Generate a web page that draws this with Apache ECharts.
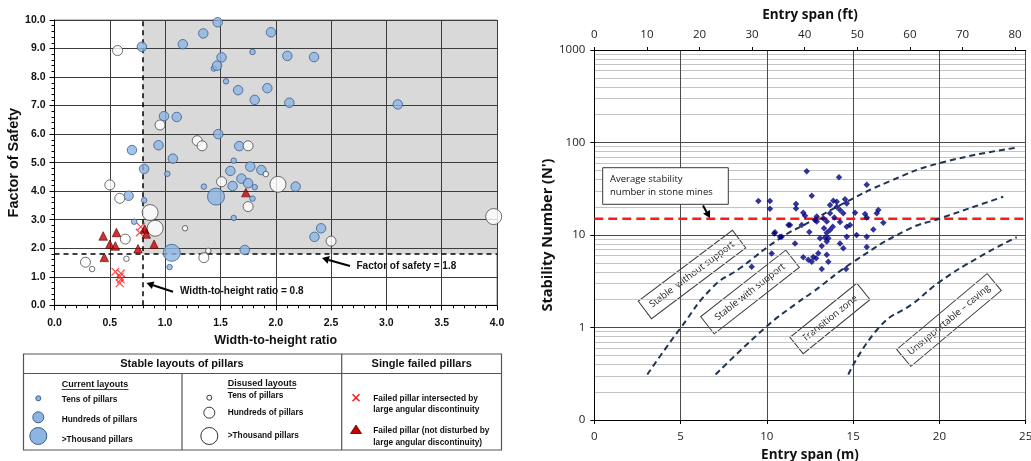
<!DOCTYPE html>
<html><head><meta charset="utf-8">
<script src="https://cdn.jsdelivr.net/npm/echarts@6/dist/echarts.min.js"></script>
<style>html,body{margin:0;padding:0;background:#fff}#c{width:1031px;height:461px}</style>
</head><body><div id="c"></div>
<script>
// ---------- Left chart: factor of safety vs width-to-height ratio ----------
const currentTens = [[1.79,8.88],[1.44,8.30],[1.55,7.85],[1.62,5.07],[1.02,4.61],[1.35,4.16],[1.81,4.14],[1.79,3.74],[0.81,3.68],[1.62,3.06],[0.72,2.93],[1.04,1.34]];
const currentHundreds = [[1.475,9.92],[1.345,9.53],[1.16,9.15],[0.79,9.06],[1.51,8.69],[1.47,8.40],[1.66,7.54],[1.81,7.20],[0.99,6.63],[1.105,6.60],[1.48,6.00],[0.94,5.61],[0.70,5.44],[1.67,5.58],[1.07,5.14],[1.77,4.86],[0.81,4.78],[1.59,4.71],[1.87,4.74],[1.69,4.44],[1.75,4.28],[1.61,4.18],[0.67,3.84],[2.18,4.16],[2.41,2.70],[2.35,2.40],[1.72,1.94],[1.957,9.57],[2.105,8.74],[2.346,8.70],[1.924,7.61],[2.123,7.10],[3.103,7.04]];
const currentThousand = [[1.46,3.81],[1.06,1.84]];
const disusedTens = [[1.91,4.60],[1.18,2.70],[1.39,1.91],[0.34,1.27],[0.65,1.63]];
const disusedHundreds = [[0.57,8.93],[0.954,6.32],[1.29,5.77],[1.334,5.59],[1.75,5.59],[1.51,4.33],[0.50,4.22],[0.59,3.75],[1.75,3.46],[2.50,2.25],[0.64,2.32],[1.35,1.67],[0.28,1.51]];
const disusedThousand = [[2.02,4.24],[0.864,3.25],[0.91,2.70],[3.97,3.11]];
const failedIntersected = [[0.78,2.75],[0.77,2.55],[0.55,1.18],[0.60,1.12],[0.59,1.00],[0.60,0.90],[0.59,0.78]];
const failedIntact = [[0.44,2.43],[0.56,2.55],[0.50,2.14],[0.55,2.08],[0.45,1.68],[0.755,1.98],[0.90,2.14],[0.815,2.67],[0.83,2.50],[1.73,3.95]];
const safetyLimit = 1.8;
const ratioLimit = 0.8;

// ---------- Right chart: stability number vs entry span ----------
const stabilityPoints = [[12.31,49],[14.18,42],[15.79,35],[9.51,23.3],[10.18,23.3],[10.18,19.2],[12.6,26.5],[11.69,21.6],[11.69,19.4],[13.85,23.4],[14.53,24.3],[13.66,21.1],[14.05,20.2],[14.63,21.9],[14.24,18.6],[14.43,17.2],[12.11,17.4],[12.21,16.1],[12.89,15.8],[13.27,15.2],[13.47,14.0],[13.91,15.5],[14.24,13.8],[15.11,17.4],[15.69,16.9],[15.79,15.5],[16.46,18.6],[16.37,17.2],[16.75,13.6],[11.34,12.8],[12.46,10.8],[12.89,14.0],[13.31,11.8],[13.47,10.6],[13.66,11.3],[13.82,12.3],[14.63,12.3],[14.82,12.8],[14.63,9.6],[15.2,10.0],[15.79,9.6],[16.17,11.5],[10.47,10.7],[10.86,9.6],[11.63,8.1],[13.18,7.6],[13.56,9.2],[13.47,8.5],[14.24,8.1],[14.43,7.2],[15.79,7.4],[10.28,6.3],[12.11,5.75],[12.4,5.4],[12.69,5.8],[12.98,6.35],[12.85,5.6],[13.47,6.1],[13.56,5.15],[12.6,5.15],[13.18,4.3],[14.59,4.3],[9.12,4.55],[13.08,9.2],[13.37,9.4],[12.02,12.8],[12.79,14.5],[13.66,17.2],[14.05,22.9],[11.25,12.8],[10.76,9.6],[10.43,10.4]];
const curveWithoutSupport = [[3.07,0.31],[5.02,1.0],[6.9,2.77],[8.44,4.37],[10.76,9.2],[12.5,13.9],[14.24,21],[17.1,38],[20.03,60],[24.4,87.5]];
const curveWithSupport = [[7.03,0.31],[10.0,1.03],[11.73,1.83],[12.69,2.44],[15.0,5.1],[18.1,11.3],[20.03,15.1],[23.7,25.9]];
const curveUnsupportable = [[14.72,0.31],[16.56,1.03],[18.49,1.83],[20.03,3.13],[22.35,5.84],[24.48,9.45]];
const avgStability = 15;
const spanRangeM = [0, 25];
const ftPerM = 3.28084;
const minorLogGrid = [0.1,1,10,100].flatMap(d => [2,3,4,5,6,7,8,9].map(k => +(d*k).toPrecision(3)));

const LF = 'Liberation Sans, Arial, sans-serif';
const RF = '"Open Sans", sans-serif';
const blue = {color:'#8db4e2', borderColor:'#3b5f8a', borderWidth:1};
const white = {color:'#ffffff', borderColor:'#4a4a4a', borderWidth:1};
const crossPath = 'path://M0,1L1,0L5,4L9,0L10,1L6,5L10,9L9,10L5,6L1,10L0,9L4,5Z';

function arrow(x1,y1,x2,y2){
  const a=Math.atan2(y2-y1,x2-x1), L=7, W=4;
  const bx=x2-L*Math.cos(a), by=y2-L*Math.sin(a), px=-Math.sin(a), py=Math.cos(a);
  return [
    {type:'line', shape:{x1,y1,x2:bx,y2:by}, style:{stroke:'#000', lineWidth:2}, z:50},
    {type:'polygon', shape:{points:[[x2,y2],[bx+px*W,by+py*W],[bx-px*W,by-py*W]]}, style:{fill:'#000'}, z:50}
  ];
}
function rbox(cx,cy,w,h,deg,txt){
  return {type:'group', x:cx, y:cy, rotation:deg*Math.PI/180, z:60, children:[
    {type:'rect', shape:{x:-w/2,y:-h/2,width:w,height:h}, style:{fill:'#fff', stroke:'#3a3a3a', lineWidth:1}},
    {type:'text', x:0, y:0, style:{text:txt, font:'9.5px '+RF, fill:'#222', align:'center', verticalAlign:'middle', textAlign:'center', textVerticalAlign:'middle'}}
  ]};
}
function txt(x,y,t,font,align){
  return {type:'text', x, y, z:60, style:{text:t, font, fill:'#111', align:align||'left', verticalAlign:'middle', textAlign:align||'left', textVerticalAlign:'middle'}};
}
const B8 = 'bold 8.3px '+LF;
const graphics = [
  // legend table
  {type:'rect', shape:{x:23.5,y:354,width:478,height:96}, style:{fill:'none', stroke:'#555', lineWidth:1.2}},
  {type:'line', shape:{x1:23.5,y1:373.5,x2:501.5,y2:373.5}, style:{stroke:'#555', lineWidth:1.2}},
  {type:'line', shape:{x1:341.7,y1:354,x2:341.7,y2:450}, style:{stroke:'#555', lineWidth:1.2}},
  {type:'line', shape:{x1:182,y1:373.5,x2:182,y2:450}, style:{stroke:'#555', lineWidth:1.2}},
  txt(182,364,'Stable layouts of pillars','bold 11px '+LF,'center'),
  txt(421.7,364,'Single failed pillars','bold 11px '+LF,'center'),
  txt(61.7,384.5,'Current layouts','bold 9px '+LF),
  {type:'line', shape:{x1:61.7,y1:389.5,x2:128.5,y2:389.5}, style:{stroke:'#111', lineWidth:0.8}},
  txt(227.7,383.5,'Disused layouts','bold 9px '+LF),
  {type:'line', shape:{x1:227.7,y1:388.5,x2:296,y2:388.5}, style:{stroke:'#111', lineWidth:0.8}},
  {type:'circle', shape:{cx:38.3,cy:398.3,r:2.5}, style:{fill:'#8db4e2', stroke:'#3b5f8a', lineWidth:1}},
  txt(61.7,400,'Tens of pillars',B8),
  {type:'circle', shape:{cx:38.3,cy:417.3,r:5.5}, style:{fill:'#8db4e2', stroke:'#3b5f8a', lineWidth:1}},
  txt(61.7,419.3,'Hundreds of pillars',B8),
  {type:'circle', shape:{cx:38.3,cy:436,r:8.5}, style:{fill:'#8db4e2', stroke:'#3b5f8a', lineWidth:1}},
  txt(61.7,440,'>Thousand pillars',B8),
  {type:'circle', shape:{cx:209.3,cy:397.7,r:2.5}, style:{fill:'#fff', stroke:'#333', lineWidth:1}},
  txt(227.7,396,'Tens of pillars',B8),
  {type:'circle', shape:{cx:209.3,cy:412.7,r:5.5}, style:{fill:'#fff', stroke:'#333', lineWidth:1}},
  txt(227.7,412.7,'Hundreds of pillars',B8),
  {type:'circle', shape:{cx:209.3,cy:436,r:8.5}, style:{fill:'#fff', stroke:'#333', lineWidth:1}},
  txt(227.7,436,'>Thousand pillars',B8),
  {type:'line', shape:{x1:352.5,y1:394.2,x2:359.5,y2:401.2}, style:{stroke:'#ff2020', lineWidth:1.6}},
  {type:'line', shape:{x1:359.5,y1:394.2,x2:352.5,y2:401.2}, style:{stroke:'#ff2020', lineWidth:1.6}},
  txt(373.3,398.3,'Failed pillar intersected by',B8),
  txt(373.3,409.6,'large angular discontinuity',B8),
  {type:'polygon', shape:{points:[[350.5,433.5],[356,425],[361.5,433.5]]}, style:{fill:'#c00000', stroke:'#500', lineWidth:0.8}},
  txt(373.3,430.7,'Failed pillar (not disturbed by',B8),
  txt(373.3,442.5,'large angular discontinuity)',B8),
  // left annotations
  txt(356.5,266,'Factor of safety = 1.8','bold 10px '+LF),
  ...arrow(350,266,322,258),
  txt(180,291.7,'Width-to-height ratio = 0.8','bold 10px '+LF),
  ...arrow(173,291.7,146.5,283),
  // right annotations
  {type:'rect', shape:{x:602.7,y:167.7,width:125.6,height:36.6}, z:60, style:{fill:'#fff', stroke:'#3a3a3a', lineWidth:1}},
  txt(610,179.5,'Average stability','9.5px '+RF),
  txt(610,192.5,'number in stone mines','9.5px '+RF),
  ...arrow(703,205.5,710,218),
  rbox(692,274.5,118,22,37,'Stable  without support'),
  rbox(750,292,108,22,38,'Stable with support'),
  rbox(830,318.5,86,21,39,'Transition zone'),
  rbox(949,320,118,22,40,'Unsupportable \u2013 caving')
];

const leftAxisCommon = {
  axisLine:{show:true, onZero:false, lineStyle:{color:'#000', width:1}},
  axisTick:{show:true, length:5, lineStyle:{color:'#000'}},
  minorTick:{show:true, splitNumber:5, length:3, lineStyle:{color:'#000'}},
  splitLine:{show:true, lineStyle:{color:'#3c3c3c', width:1}},
  nameLocation:'middle',
  nameTextStyle:{fontFamily:LF, fontWeight:'bold', color:'#111'},
  z:3
};
const rightAxisCommon = {
  axisLine:{show:true, onZero:false, lineStyle:{color:'#000', width:1}},
  axisTick:{show:true, length:4, lineStyle:{color:'#000'}},
  nameLocation:'middle',
  nameTextStyle:{fontFamily:RF, fontWeight:'bold', color:'#111'},
  axisLabel:{fontFamily:RF, fontSize:11.5, color:'#222'},
  z:2
};

const option = {
  animation:false,
  backgroundColor:'#fff',
  grid:[
    {left:54.5, top:20, width:442.5, height:285.3, show:true, borderColor:'#888', borderWidth:1, backgroundColor:'#fff', containLabel:false, outerBoundsMode:'none'},
    {left:594.3, top:50, width:431.4, height:370, containLabel:false, outerBoundsMode:'none'}
  ],
  xAxis:[
    Object.assign({}, leftAxisCommon, {gridIndex:0, type:'value', min:0, max:4, interval:0.5,
      name:'Width-to-height ratio', nameGap:29,
      nameTextStyle:Object.assign({}, leftAxisCommon.nameTextStyle, {fontSize:12.5}),
      axisLabel:{formatter:v=>v.toFixed(1), fontFamily:LF, fontWeight:'bold', fontSize:10.5, color:'#111', margin:12}}),
    Object.assign({}, rightAxisCommon, {gridIndex:1, type:'value', min:spanRangeM[0], max:spanRangeM[1], interval:5,
      name:'Entry span (m)', nameGap:24, nameTextStyle:Object.assign({}, rightAxisCommon.nameTextStyle, {fontSize:13.5}),
      splitLine:{show:true, lineStyle:{color:'#4a4a4a', width:1}},
      axisLabel:Object.assign({}, rightAxisCommon.axisLabel, {margin:11})}),
    Object.assign({}, rightAxisCommon, {gridIndex:1, type:'value', position:'top', min:spanRangeM[0]*ftPerM, max:spanRangeM[1]*ftPerM, interval:10,
      name:'Entry span (ft)', nameGap:28, nameTextStyle:Object.assign({}, rightAxisCommon.nameTextStyle, {fontSize:13.5}),
      splitLine:{show:false}, axisTick:{show:true, length:3, lineStyle:{color:'#000'}},
      axisLabel:Object.assign({}, rightAxisCommon.axisLabel, {margin:9, showMaxLabel:false})})
  ],
  yAxis:[
    Object.assign({}, leftAxisCommon, {gridIndex:0, type:'value', min:0, max:10, interval:1,
      name:'Factor of Safety', nameGap:33,
      nameTextStyle:Object.assign({}, leftAxisCommon.nameTextStyle, {fontSize:14.5}),
      axisLabel:{formatter:v=>v.toFixed(1), fontFamily:LF, fontWeight:'bold', fontSize:10.5, color:'#111', margin:9}}),
    Object.assign({}, rightAxisCommon, {gridIndex:1, type:'log', logBase:10, min:0.1, max:1000,
      name:"Stability Number (N')", nameGap:30, nameTextStyle:Object.assign({}, rightAxisCommon.nameTextStyle, {fontSize:14.5}),
      splitLine:{show:true, lineStyle:{color:'#4a4a4a', width:1}},
      axisLabel:Object.assign({}, rightAxisCommon.axisLabel, {margin:9, formatter:v=> v < 0.5 ? '0' : String(Math.round(v))})})
  ],
  graphic:{elements:graphics},
  series:[
    {type:'scatter', name:'currentTens', xAxisIndex:0, yAxisIndex:0, z:6, data:currentTens, symbolSize:5.5, itemStyle:blue,
      markArea:{silent:true, z:1, itemStyle:{color:'#d9d9d9'}, data:[[{coord:[ratioLimit, safetyLimit]},{coord:[4,10]}]]},
      markLine:{silent:true, z:4, symbol:'none', label:{show:false}, lineStyle:{color:'#000', type:[5,4], width:1.5},
        data:[{xAxis:ratioLimit}, {yAxis:safetyLimit}]}},
    {type:'scatter', name:'currentHundreds', xAxisIndex:0, yAxisIndex:0, z:6, data:currentHundreds, symbolSize:9.5, itemStyle:blue},
    {type:'scatter', name:'currentThousand', xAxisIndex:0, yAxisIndex:0, z:6, data:currentThousand, symbolSize:17, itemStyle:blue},
    {type:'scatter', name:'disusedTens', xAxisIndex:0, yAxisIndex:0, z:6, data:disusedTens, symbolSize:5.5, itemStyle:white},
    {type:'scatter', name:'disusedHundreds', xAxisIndex:0, yAxisIndex:0, z:6, data:disusedHundreds, symbolSize:10, itemStyle:white},
    {type:'scatter', name:'disusedThousand', xAxisIndex:0, yAxisIndex:0, z:6, data:disusedThousand, symbolSize:16, itemStyle:white},
    {type:'scatter', name:'failedIntersected', xAxisIndex:0, yAxisIndex:0, z:7, data:failedIntersected, symbol:crossPath, symbolSize:8.5, itemStyle:{color:'#ff2020'}},
    {type:'scatter', name:'failedIntact', xAxisIndex:0, yAxisIndex:0, z:7, data:failedIntact, symbol:'triangle', symbolSize:8.5, itemStyle:{color:'#c00000', borderColor:'#5a0000', borderWidth:0.8}},
    // right chart
    {type:'line', name:'avg', xAxisIndex:1, yAxisIndex:1, z:3.5, data:[[spanRangeM[0],avgStability],[spanRangeM[1],avgStability]],
      showSymbol:false, symbol:'none', lineStyle:{color:'#ff1a1a', width:2.5, type:[9,5]},
      markLine:{silent:true, z:1, symbol:'none', label:{show:false}, lineStyle:{color:'#c4c4c4', type:'solid', width:1},
        data:minorLogGrid.map(v=>({yAxis:v}))}},
    {type:'line', name:'withoutSupport', xAxisIndex:1, yAxisIndex:1, z:4, data:curveWithoutSupport, smooth:0.5, symbol:'none', lineStyle:{color:'#1f3552', width:2, type:[6,4]}},
    {type:'line', name:'withSupport', xAxisIndex:1, yAxisIndex:1, z:4, data:curveWithSupport, smooth:0.5, symbol:'none', lineStyle:{color:'#1f3552', width:2, type:[6,4]}},
    {type:'line', name:'unsupportable', xAxisIndex:1, yAxisIndex:1, z:4, data:curveUnsupportable, smooth:0.5, symbol:'none', lineStyle:{color:'#1f3552', width:2, type:[6,4]}},
    {type:'scatter', name:'cases', xAxisIndex:1, yAxisIndex:1, z:5, data:stabilityPoints, symbol:'diamond', symbolSize:6.5, itemStyle:{color:'#000080'}}
  ]
};
const chart = echarts.init(document.getElementById('c'), null, {renderer:'canvas'});
chart.setOption(option);
</script></body></html>
